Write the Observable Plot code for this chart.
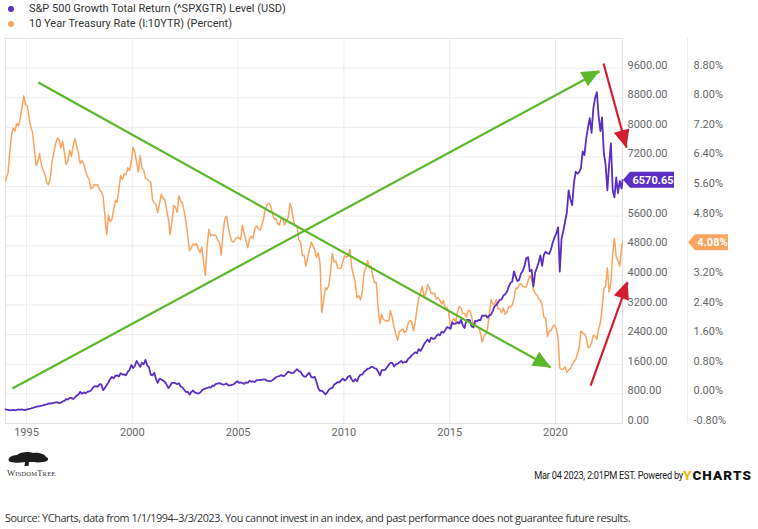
<!DOCTYPE html>
<html><head><meta charset="utf-8">
<script src="https://cdn.jsdelivr.net/npm/d3@7"></script>
<script src="https://cdn.jsdelivr.net/npm/@observablehq/plot@0.6"></script>
<style>
html,body{margin:0;padding:0;background:#fff;}
body{width:758px;height:529px;overflow:hidden;position:relative;font-family:Roboto,sans-serif;}
.li{position:absolute;left:8px;font-size:11px;color:#333;display:flex;align-items:center;white-space:nowrap;line-height:14px;}
.dot{width:6px;height:6px;border-radius:50%;margin-right:15px;}
#chart{position:absolute;left:0;top:30px;}
#logo{position:absolute;left:5px;top:451px;}
#powered{position:absolute;right:6px;top:467px;white-space:nowrap;display:flex;align-items:center;}
#powered .pt{font-size:10.5px;color:#222;letter-spacing:-0.3px;display:inline-block;transform:scaleX(0.88);transform-origin:right center;margin-right:-1px;}
#powered .yc{font-family:Roboto,sans-serif;font-weight:900;font-size:13.5px;letter-spacing:1.1px;color:#111;margin-left:1px;}
#powered .yc span{color:#f2bd0a;}
#source{position:absolute;left:5px;top:510px;font-family:"Open Sans",sans-serif;font-size:10.8px;color:#333;white-space:nowrap;letter-spacing:-0.4px;}
</style></head>
<body>
<div class="li" style="top:2px"><div class="dot" style="background:#5a2fc2"></div>S&amp;P 500 Growth Total Return (^SPXGTR) Level (USD)</div>
<div class="li" style="top:17px"><div class="dot" style="background:#f9a461"></div>10 Year Treasury Rate (I:10YTR) (Percent)</div>
<div id="chart"></div>
<svg id="logo" width="62" height="30" viewBox="0 0 62 30">
  <path d="M4,10 C2,7 7,4 12,4 C15,1 24,0 28,2 C33,1 40,3 41,6 C45,7 43,11 38,11 C33,12 28,11 24,11 L23.5,15 L19.5,15 L20,11 C14,12 6,12 4,10 Z" fill="#1d1d1d"/>
  <text x="2" y="25" font-family="Liberation Serif,serif" font-size="8.5" fill="#333" letter-spacing="0.2">W<tspan font-size="6.5">ISDOM</tspan>T<tspan font-size="6.5">REE</tspan></text>
</svg>
<div id="powered"><span class="pt">Mar 04 2023, 2:01PM EST. Powered by</span><span class="yc"><span>Y</span>CHARTS</span></div>
<div id="source">Source: YCharts, data from 1/1/1994–3/3/2023. You cannot invest in an index, and past performance does not guarantee future results.</div>
<script>
// Monthly values, Jan 1994 – Mar 2023 (last point = 3 Mar 2023)
const spxValues = [
 380,370,355,360,365,355,365,380,370,380,365,370,
 380,395,405,420,435,450,465,465,485,490,510,515,
 535,540,545,555,570,575,550,560,595,610,660,645,
 690,690,660,705,750,785,855,800,840,815,855,870,
 885,955,1000,1010,990,1060,1055,900,960,1040,1110,1200,
 1260,1220,1290,1300,1270,1360,1320,1330,1300,1400,1450,1580,
 1500,1560,1690,1610,1530,1640,1600,1720,1570,1520,1320,1300,
 1370,1190,1100,1210,1190,1160,1130,1050,960,1020,1100,1100,
 1090,1060,1090,1000,980,910,850,860,780,850,890,840,
 820,810,830,890,930,940,960,980,970,1020,1020,1070,
 1080,1090,1070,1050,1060,1080,1030,1030,1040,1060,1100,1140,
 1100,1110,1090,1070,1110,1100,1150,1130,1140,1120,1170,1170,
 1180,1180,1190,1190,1150,1150,1140,1170,1210,1250,1270,1280,
 1310,1280,1290,1350,1400,1380,1360,1370,1420,1470,1410,1400,
 1310,1270,1260,1330,1370,1260,1240,1260,1120,950,880,890,
 840,790,830,910,950,960,1050,1080,1120,1110,1170,1210,
 1160,1200,1270,1290,1190,1130,1200,1140,1260,1320,1320,1400,
 1430,1480,1480,1530,1520,1490,1480,1400,1300,1440,1440,1450,
 1520,1590,1640,1640,1540,1600,1610,1650,1690,1640,1660,1660,
 1750,1780,1840,1880,1920,1900,2010,1960,2040,2140,2210,2270,
 2200,2320,2290,2290,2360,2410,2380,2480,2450,2520,2600,2590,
 2560,2730,2690,2700,2740,2700,2800,2650,2580,2790,2800,2790,
 2620,2600,2770,2760,2800,2790,2920,2910,2920,2860,2920,2940,
 3050,3170,3200,3270,3340,3350,3450,3490,3560,3690,3800,3830,
 4110,3960,3850,3880,4050,4120,4250,4470,4490,4110,4150,3700,
 4080,4210,4350,4540,4260,4560,4640,4600,4580,4700,4890,5020,
 5140,5300,4100,4990,5200,5450,5700,6300,6050,5900,6500,6800,
 6750,6800,6900,7350,7250,7700,8000,8250,7850,8500,8800,8950,
 8300,7900,8270,7300,7000,6300,7000,7570,6300,6110,6650,6220,
 6550,6350,6570.65
];
const tsyValues = [
 5.75,5.97,6.48,6.97,7.18,7.10,7.30,7.24,7.46,7.74,8.05,7.81,
 7.78,7.47,7.20,7.06,6.63,6.17,6.28,6.49,6.20,6.04,5.93,5.71,
 5.65,5.81,6.27,6.51,6.74,6.91,6.87,6.64,6.83,6.53,6.20,6.30,
 6.58,6.42,6.69,6.89,6.71,6.49,6.22,6.30,6.21,6.03,5.88,5.81,
 5.54,5.57,5.65,5.64,5.65,5.50,5.46,5.34,4.81,4.30,4.83,4.65,
 4.72,5.00,5.23,5.18,5.54,5.90,5.79,5.94,5.92,6.11,6.03,6.28,
 6.66,6.52,6.26,5.99,6.44,6.10,6.05,5.83,5.80,5.74,5.72,5.24,
 5.16,5.10,4.89,5.14,5.39,5.28,5.24,4.97,4.73,4.30,4.65,5.09,
 5.04,4.91,5.35,5.21,5.16,4.93,4.65,4.26,3.87,3.94,4.05,4.03,
 4.05,3.90,3.81,3.96,3.57,3.20,3.98,4.45,4.27,4.29,4.30,4.27,
 4.15,4.08,3.75,4.35,4.72,4.80,4.50,4.28,4.13,4.10,4.19,4.23,
 4.22,4.17,4.55,4.34,4.14,3.95,4.18,4.26,4.20,4.46,4.54,4.47,
 4.42,4.57,4.72,4.99,5.11,5.15,5.09,4.88,4.72,4.73,4.60,4.56,
 4.76,4.72,4.56,4.69,4.75,5.15,5.00,4.67,4.52,4.53,4.15,4.10,
 3.74,3.74,3.45,3.68,3.88,4.10,4.01,3.89,3.69,3.81,3.53,2.20,
 2.52,2.87,2.82,2.93,3.29,3.80,3.56,3.59,3.40,3.39,3.40,3.59,
 3.73,3.69,3.73,3.90,3.42,3.20,3.01,2.60,2.65,2.54,2.76,3.29,
 3.39,3.60,3.41,3.46,3.17,3.00,3.00,2.30,1.90,2.15,2.01,1.98,
 1.97,1.97,2.25,2.05,1.80,1.62,1.45,1.68,1.72,1.75,1.65,1.72,
 1.91,1.98,1.96,1.70,1.93,2.30,2.58,2.74,2.90,2.62,2.72,2.95,
 2.86,2.71,2.72,2.71,2.56,2.60,2.54,2.42,2.53,2.30,2.33,2.21,
 1.75,1.98,2.04,1.94,2.20,2.36,2.32,2.17,2.17,2.07,2.26,2.24,
 2.09,1.78,1.89,1.81,1.81,1.64,1.40,1.56,1.63,1.76,2.14,2.55,
 2.43,2.42,2.55,2.30,2.30,2.19,2.32,2.15,2.20,2.36,2.35,2.40,
 2.58,2.86,2.84,2.95,2.98,2.91,2.89,2.89,3.05,3.20,3.12,2.83,
 2.71,2.68,2.57,2.53,2.40,2.07,2.06,1.55,1.70,1.71,1.81,1.86,
 1.76,1.50,0.70,0.66,0.67,0.73,0.58,0.65,0.68,0.79,0.87,0.93,
 1.08,1.26,1.70,1.64,1.62,1.52,1.25,1.28,1.37,1.58,1.56,1.47,
 1.76,1.93,2.30,2.85,2.90,3.40,2.75,3.00,3.80,4.20,3.70,3.60,
 3.45,3.95,4.08
];
const xTickYears = [1995, 2000, 2005, 2010, 2015, 2020];
const leftTicks = [0,800,1600,2400,3200,4000,4800,5600,6400,7200,8000,8800,9600];
const gridTicks = [...leftTicks, 10400];
// Annotation arrows: [year, level] start and end
const arrowStart = [[1995.56, 9210], [1994.33, 945], [2022.27, 9724], [2021.66, 1026]];
const arrowEnd   = [[2019.77, 1513], [2022.08, 9508], [2023.36, 7455], [2023.41, 3808]];
const arrowColor = ["#5cb82a", "#5cb82a", "#d21f30", "#d21f30"];

const startDate = new Date(Date.UTC(1994, 0, 3));
const endDate = new Date(Date.UTC(2023, 2, 3));
const dateAt = i => i === 0 ? startDate : (i === spxValues.length - 1 ? endDate : new Date(Date.UTC(1994, i, 15)));
const yearToDate = yr => { const y = Math.floor(yr); const a = Date.UTC(y,0,1), b = Date.UTC(y+1,0,1); return new Date(a + (yr - y)*(b - a)); };
// Treasury rate mapped on the shared axis: -0.80% ↔ 0, 8.80% ↔ 9600
const tsyToLevel = v => (v + 0.8) * 1000;

const spx = spxValues.map((v, i) => ({date: dateAt(i), v}));
const tsy = tsyValues.map((v, i) => ({date: dateAt(i), v: tsyToLevel(v)}));
const arrows = arrowStart.map((s, i) => ({x1: yearToDate(s[0]), y1: s[1], x2: yearToDate(arrowEnd[i][0]), y2: arrowEnd[i][1], color: arrowColor[i]}));
const xTicks = xTickYears.map(y => new Date(Date.UTC(y, 0, 1)));

const purple = "#5a2fc2", orange = "#f9a461";
const lastSpx = spxValues[spxValues.length - 1], lastTsy = tsyValues[tsyValues.length - 1];
// tick labels hidden under the last-value tags
const leftLabels = leftTicks.filter(t => Math.abs(t - lastSpx) > 400);
const rightLabels = leftTicks.filter(t => Math.abs(t - tsyToLevel(lastTsy)) > 400);

const plot = Plot.plot({
  width: 758, height: 420,
  marginTop: 8, marginBottom: 27, marginLeft: 5, marginRight: 136,
  x: {type: "utc", domain: [startDate, endDate], axis: null},
  y: {domain: [0, 10400], axis: null},
  style: {fontFamily: "Roboto, sans-serif", fontSize: "11px", background: "transparent", overflow: "visible"},
  marks: [
    Plot.ruleY(gridTicks, {stroke: "#ececec"}),
    Plot.ruleX(xTicks, {stroke: "#ececec"}),
    Plot.frame({stroke: "#e2e2e2"}),
    Plot.line(tsy, {x: "date", y: "v", stroke: orange, strokeWidth: 1.5}),
    Plot.line(spx, {x: "date", y: "v", stroke: purple, strokeWidth: 1.8}),
    Plot.link(arrows, {x1: "x1", y1: "y1", x2: "x2", y2: "y2", stroke: "color", strokeWidth: 2.2, clip: false}),
    Plot.text(xTicks, {x: d => d, frameAnchor: "bottom", dy: 12, text: d => String(d.getUTCFullYear()), fill: "#666"}),
    Plot.text(leftLabels, {y: d => d, frameAnchor: "right", dx: 5, dy: -3, textAnchor: "start", text: d => d.toFixed(2), fill: "#666"}),
    Plot.text(rightLabels, {y: d => d, frameAnchor: "right", dx: 71, dy: -3, textAnchor: "start", text: d => (d / 1000 - 0.8).toFixed(2) + "%", fill: "#666"})
  ]
});
document.getElementById("chart").appendChild(plot);

// Post-process with the plot's own scales: arrowheads, axis separator, last-value tags
const xs = plot.scale("x"), ys = plot.scale("y");
const svg = d3.select(plot);
const g = svg.append("g");
arrows.forEach(a => {
  const x1 = xs.apply(a.x1), y1 = ys.apply(a.y1), x2 = xs.apply(a.x2), y2 = ys.apply(a.y2);
  const L = Math.hypot(x2 - x1, y2 - y1), ux = (x2 - x1) / L, uy = (y2 - y1) / L;
  const nx = -uy, ny = ux, hl = 17, hw = 8;
  const pts = [[x2 + ux, y2 + uy], [x2 - hl*ux + hw*nx, y2 - hl*uy + hw*ny], [x2 - hl*ux - hw*nx, y2 - hl*uy - hw*ny]];
  g.append("path").attr("d", "M" + pts.map(p => p.join(",")).join("L") + "Z").attr("fill", a.color);
});
const frameTop = ys.apply(10400), frameBottom = ys.apply(0);
g.append("line").attr("x1", 687.5).attr("x2", 687.5).attr("y1", frameTop).attr("y2", frameBottom).attr("stroke", "#ececec");

function tag(xTip, xLeft, xRight, yc, fill, label) {
  const h = 8;
  g.append("path").attr("d", `M${xTip},${yc}L${xLeft},${yc - h}L${xRight},${yc - h}L${xRight},${yc + h}L${xLeft},${yc + h}Z`).attr("fill", fill);
  g.append("text").attr("x", (xLeft + xRight) / 2 + 1).attr("y", yc).attr("dy", "0.36em")
    .attr("text-anchor", "middle").attr("fill", "#fff").attr("font-weight", "bold").attr("font-size", 11)
    .attr("font-family", "Roboto, sans-serif").text(label);
}
tag(623, 630, 674, ys.apply(lastSpx), purple, lastSpx.toFixed(2));
tag(688, 695, 728, ys.apply(tsyToLevel(lastTsy)), orange, lastTsy.toFixed(2) + "%");
</script>
</body></html>
